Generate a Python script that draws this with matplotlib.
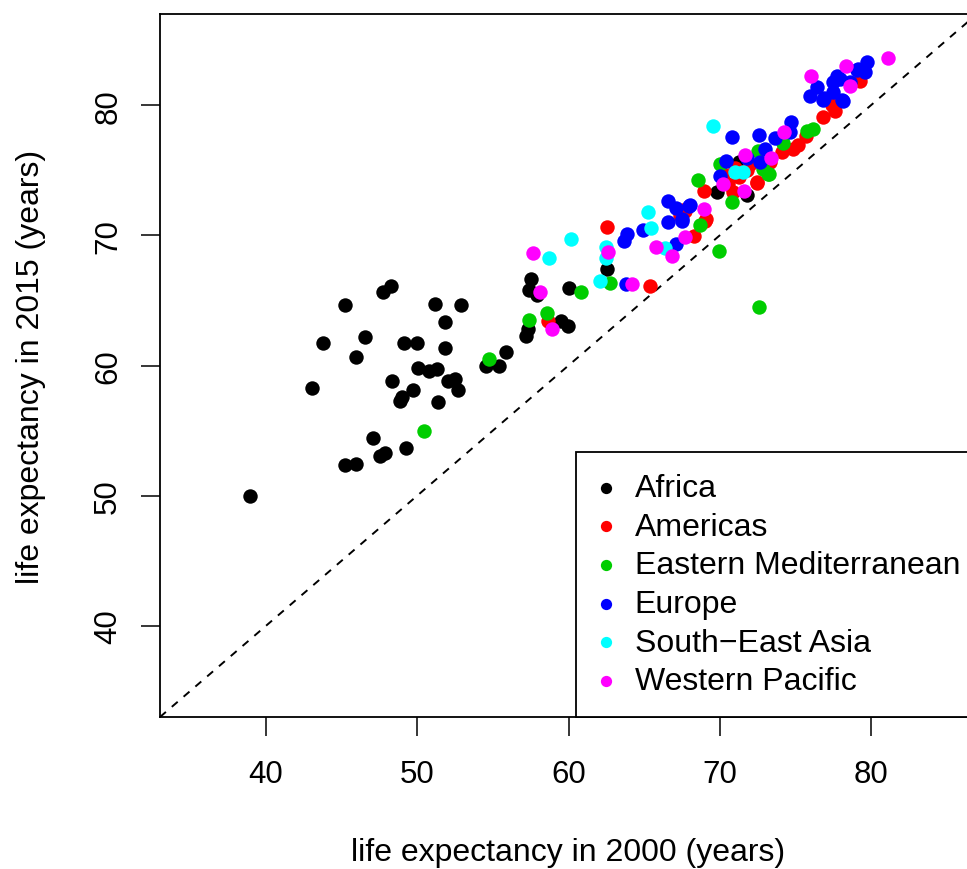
import matplotlib
matplotlib.use("Agg")
import matplotlib.pyplot as plt

plt.rcParams['font.family'] = ['Liberation Sans', 'DejaVu Sans']

regions = ["Africa", "Americas", "Eastern Mediterranean", "Europe",
           "South\u2212East Asia", "Western Pacific"]
colors = ["black", "#FF0000", "#00CD00", "#0000FF", "#00FFFF", "#FF00FF"]

africa_2000 = [48.27, 47.76, 45.25, 51.16, 52.87, 51.86, 46.55, 43.75, 49.13, 49.97,
               51.86, 45.93, 50.07, 50.76, 51.29, 52.05, 52.50, 48.35, 49.74, 52.68,
               48.99, 48.86, 51.35, 43.05, 47.06, 49.26, 47.87, 47.54, 45.23, 45.95,
               38.95, 54.55, 55.40, 55.87, 57.19, 57.34, 57.50, 57.41, 57.94, 60.05,
               59.50, 59.99, 62.52, 69.83, 71.82, 71.29]
africa_2015 = [66.09, 65.63, 64.65, 64.73, 64.65, 63.32, 62.22, 61.73, 61.73, 61.73,
               61.35, 60.63, 59.81, 59.56, 59.73, 58.84, 58.97, 58.84, 58.14, 58.12,
               57.56, 57.25, 57.22, 58.25, 54.43, 53.64, 53.26, 53.03, 52.36, 52.44,
               50.00, 59.99, 59.99, 61.02, 62.29, 62.81, 66.65, 65.80, 65.42, 65.93,
               63.42, 63.06, 67.41, 73.35, 73.10, 75.61]

americas_2000 = [62.57, 65.39, 58.62, 67.37, 67.70, 68.96, 69.02, 68.30, 70.89, 72.48,
                 70.23, 70.56, 74.86, 75.19, 74.09, 73.32, 75.70, 76.84, 77.61, 77.40,
                 79.27, 72.43, 69.09, 71.30, 71.80, 72.00, 71.00, 67.59]
americas_2015 = [70.62, 66.13, 63.42, 71.56, 71.90, 73.43, 71.13, 69.97, 73.31, 74.02,
                 74.71, 73.94, 76.63, 76.94, 76.38, 75.61, 77.65, 79.07, 79.57, 80.00,
                 81.88, 74.07, 71.25, 74.50, 75.00, 75.50, 75.20, 71.97]

emed_2000 = [50.47, 54.74, 57.39, 58.55, 60.80, 62.74, 68.58, 68.69, 69.97, 72.61,
             70.78, 73.27, 72.87, 73.20, 72.50, 74.20, 75.74, 76.18, 70.01]
emed_2015 = [54.95, 60.50, 63.50, 64.04, 65.63, 66.34, 74.27, 70.79, 68.82, 64.47,
             72.58, 74.71, 75.10, 74.71, 76.50, 77.09, 78.04, 78.17, 75.48]

europe_2000 = [63.80, 63.67, 63.88, 64.95, 66.60, 67.10, 67.98, 66.60, 67.48, 67.10,
               68.03, 70.78, 72.59, 73.65, 74.64, 74.70, 72.99, 70.41, 71.78, 72.66,
               70.01, 79.70, 79.60, 79.09, 77.72, 77.94, 77.50, 76.40, 75.96, 76.84,
               78.16, 77.50, 76.92, 78.11, 78.60, 79.15, 67.48]
europe_2015 = [66.26, 69.59, 70.10, 70.43, 72.66, 72.08, 72.28, 71.05, 71.25, 69.33,
               72.33, 77.58, 77.73, 77.45, 77.91, 78.68, 76.63, 75.73, 75.92, 75.61,
               74.58, 83.34, 82.52, 82.72, 82.26, 82.01, 81.75, 81.37, 80.68, 80.42,
               80.34, 80.99, 80.52, 80.42, 81.75, 82.78, 71.13]

sea_2000 = [60.19, 58.69, 62.48, 62.48, 62.08, 65.28, 65.43, 66.38, 69.57, 71.00, 71.55]
sea_2015 = [69.72, 68.24, 69.08, 68.24, 66.52, 71.77, 70.54, 69.00, 78.42, 74.84, 74.84]

wpac_2000 = [57.67, 58.12, 58.89, 62.59, 64.17, 65.78, 66.82, 67.70, 68.96, 70.18,
             71.60, 73.36, 71.66, 74.24, 76.00, 78.32, 81.09, 78.60]
wpac_2015 = [68.64, 65.67, 62.81, 68.70, 66.26, 69.13, 68.39, 69.85, 72.02, 73.94,
             73.43, 75.94, 76.17, 77.91, 82.26, 83.03, 83.62, 81.49]

series = [(africa_2000, africa_2015), (americas_2000, americas_2015),
          (emed_2000, emed_2015), (europe_2000, europe_2015),
          (sea_2000, sea_2015), (wpac_2000, wpac_2015)]

xticks = [40, 50, 60, 70, 80]
yticks = [40, 50, 60, 70, 80]

fig = plt.figure(figsize=(9.67, 8.7), dpi=100)
ax = fig.add_axes([160/967, 152/870, 817/967, 703/870])

for (xs, ys), c, lab in zip(series, colors, regions):
    ax.scatter(xs, ys, s=108, color=c, linewidths=0, label=lab, zorder=3)

ax.axline((40, 40), slope=1, color="black", linestyle=(0, (4, 4)), linewidth=1.4, zorder=2)

ax.set_xlim(33, 87)
ax.set_ylim(33, 87)
ax.set_xticks(xticks)
ax.set_yticks(yticks)
ax.tick_params(axis='both', length=13.5, width=1.1, labelsize=22.5, direction='out')
ax.tick_params(axis='x', pad=17)
ax.tick_params(axis='y', pad=13, labelrotation=90)
for t in ax.get_yticklabels():
    t.set_va('center')
for s in ax.spines.values():
    s.set_linewidth(1.3)

ax.set_xlabel("life expectancy in 2000 (years)", fontsize=23, labelpad=34)
ax.set_ylabel("life expectancy in 2015 (years)", fontsize=23, labelpad=34)

leg = ax.legend(loc='lower right', bbox_to_anchor=(1.005, 0), borderaxespad=0,
                fontsize=23, frameon=True, fancybox=False, edgecolor='black',
                framealpha=1, markerscale=0.78, handlelength=0.6, handletextpad=0.6,
                borderpad=0.65, labelspacing=0.27, scatterpoints=1)
leg.get_frame().set_linewidth(1.3)

fig.savefig("out.png", dpi=100)
